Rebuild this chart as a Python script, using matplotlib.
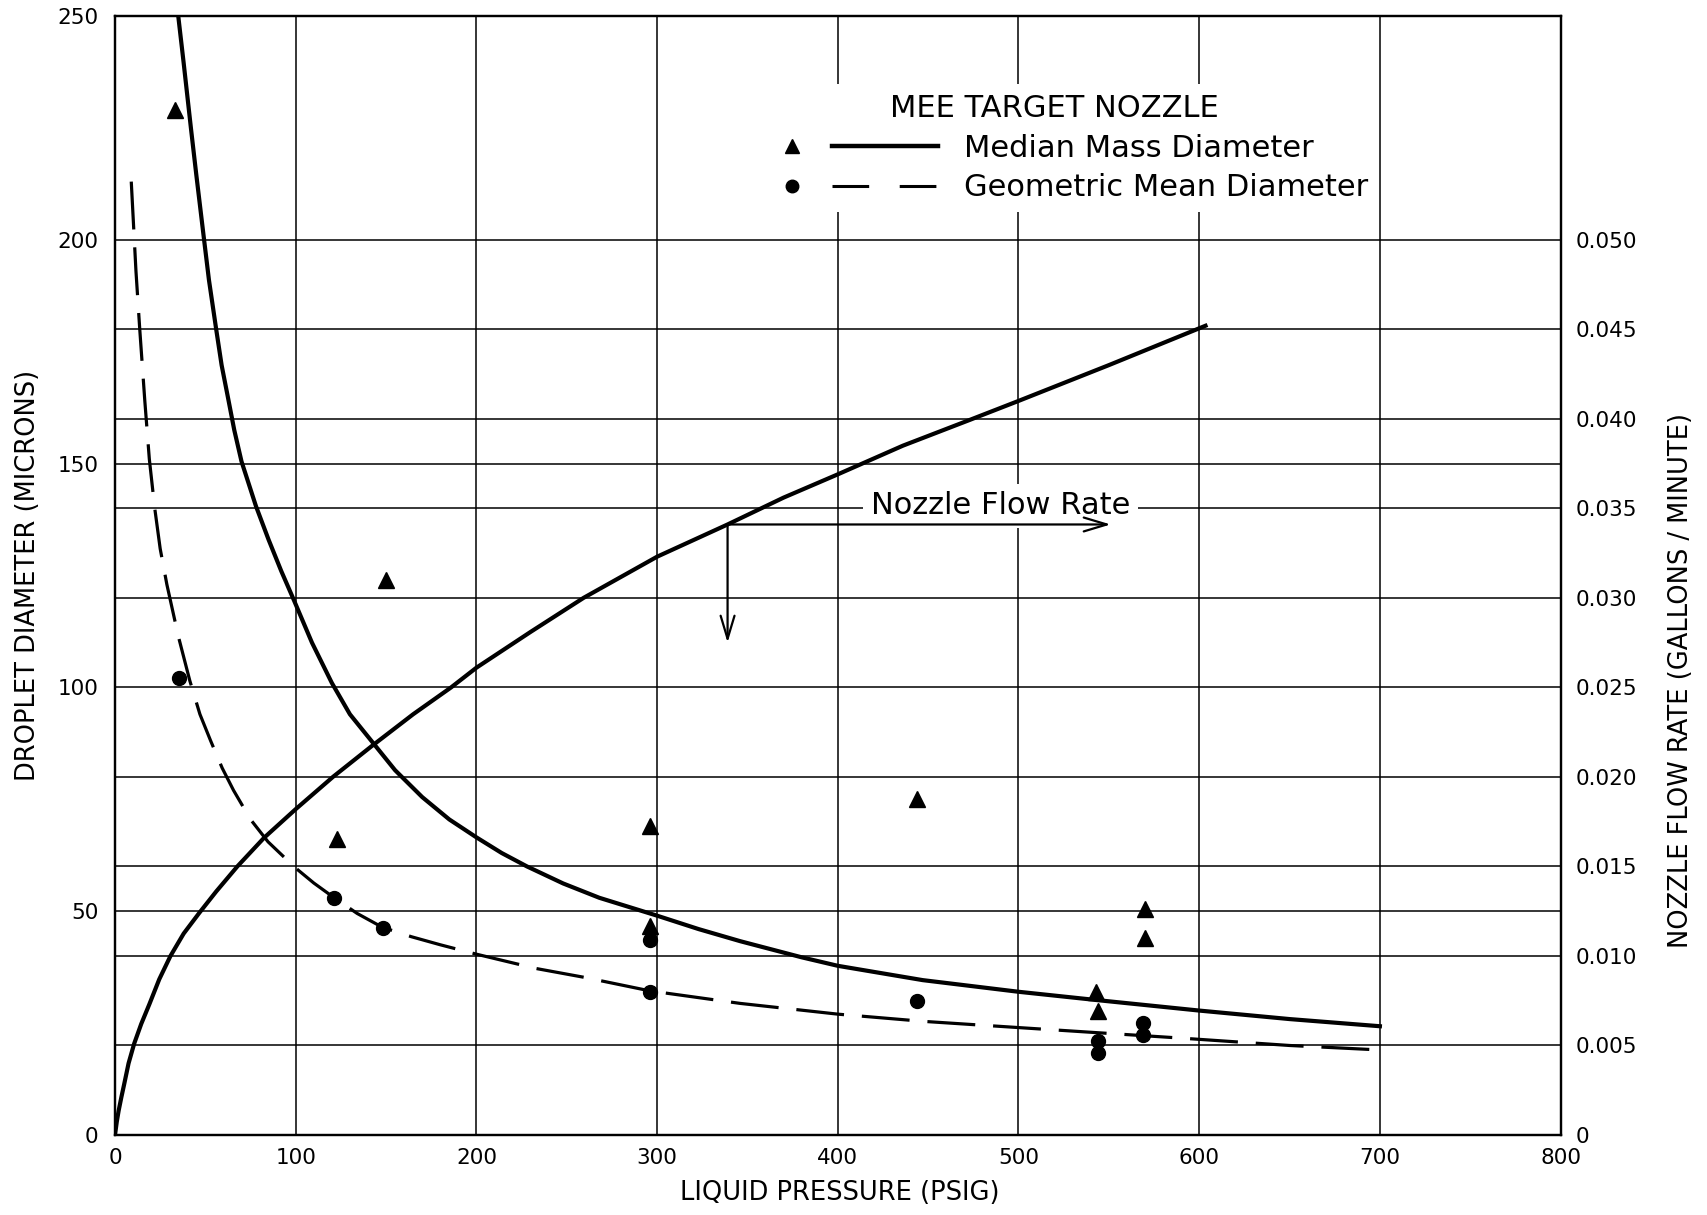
import matplotlib
matplotlib.use('Agg')
import matplotlib.pyplot as plt
import numpy as np
from matplotlib.lines import Line2D
from matplotlib.legend_handler import HandlerTuple

plt.rcParams['font.family'] = ['DejaVu Sans']

# median mass diameter curve (microns vs psig)
mmd_psig = [35, 38, 42, 45, 49, 52, 56, 59, 62.4, 66, 70, 78, 85, 92, 99, 109, 120, 130,
            142, 155, 170, 185, 200, 214, 228, 248, 268, 284, 300, 323, 346, 380, 400,
            447, 500, 542, 600, 650, 700]
mmd_micron = [250, 239.5, 225, 214.5, 201, 191, 180, 172, 165, 157.5, 150.5, 140.5, 133,
              126, 119.5, 110, 101, 94, 88, 81.5, 75.5, 70.5, 66.5, 63, 60, 56.2, 53, 51,
              49, 46, 43.3, 39.7, 37.8, 34.6, 32, 30.2, 27.8, 25.9, 24.3]

# geometric mean diameter curve
gmd_psig = [9, 10.3, 11.6, 13.7, 16.5, 19, 22, 25, 28.7, 35, 41.4, 47, 53, 59.3, 65.6, 75,
            84.7, 99.5, 110, 120.6, 134, 148, 164, 180, 200, 233, 260, 296, 346, 400, 447,
            500, 542, 588, 650, 700]
gmd_micron = [213, 203, 193, 180, 164, 151, 140, 131, 123, 111.5, 101.5, 94, 88, 82, 77,
              70.5, 65.5, 59.8, 56.3, 53.2, 49.5, 46.4, 44.3, 42.5, 40.4, 37.2, 35.2, 32.2,
              29.4, 27, 25.4, 24, 22.9, 21.7, 20, 19]

# measured points
mmd_pts_psig = [33, 123, 150, 296, 296, 444, 543, 544, 570, 570]
mmd_pts_micron = [229, 66.2, 124, 69, 46.6, 75, 32, 27.8, 50.5, 44]
gmd_pts_psig = [35.4, 121, 148.5, 296, 296, 444, 544, 544, 569, 569]
gmd_pts_micron = [102, 53, 46.2, 43.5, 32, 30, 20.9, 18.4, 25, 22.3]

# nozzle flow rate (gallons / minute)
flow_psig = [0, 1, 2, 3.5, 5, 7.5, 10.6, 14.5, 19, 24.5, 30.7, 38, 46.6, 56, 67.7, 82.5,
             100, 120.6, 141.8, 165, 186, 200, 230, 259.3, 300, 339, 370, 400, 436, 472,
             500, 550, 603.5]
flow_gpm = [0, 0.00075, 0.00135, 0.0021, 0.0028, 0.0040, 0.0051, 0.0062, 0.0073, 0.0087,
            0.0100, 0.01125, 0.0124, 0.0136, 0.0150, 0.0166, 0.0182, 0.0200, 0.0217,
            0.0235, 0.0250, 0.0261, 0.0281, 0.0300, 0.0323, 0.0341, 0.0356, 0.0369,
            0.0385, 0.0399, 0.0410, 0.0430, 0.0452]

x_ticks = [0, 100, 200, 300, 400, 500, 600, 700, 800]
y_ticks = [0, 50, 100, 150, 200, 250]
flow_ticks = [0, 0.005, 0.010, 0.015, 0.020, 0.025, 0.030, 0.035, 0.040, 0.045, 0.050]
flow_labels = ['0', '0.005', '0.010', '0.015', '0.020', '0.025', '0.030', '0.035',
               '0.040', '0.045', '0.050']

fig = plt.figure(figsize=(17.08, 12.15), dpi=100)
ax = fig.add_axes([115 / 1708, 1 - 1135 / 1215, 1445.6 / 1708, 1119 / 1215])

ax.plot(mmd_psig, mmd_micron, color='k', lw=3.0, zorder=4)
ax.plot(gmd_psig, gmd_micron, color='k', lw=2.3, dashes=(15, 5.6), zorder=4)
ax.plot(mmd_pts_psig, mmd_pts_micron, '^', color='k', ms=12, zorder=5)
ax.plot(gmd_pts_psig, gmd_pts_micron, 'o', color='k', ms=10, zorder=5)

ax.set_xlim(0, 800)
ax.set_ylim(0, 250)
ax.set_xticks(x_ticks)
ax.set_yticks(y_ticks)
ax.set_yticks([20, 40, 60, 80, 120, 140, 160, 180], minor=True)
ax.set_axisbelow(True)
ax.grid(which='both', axis='y', color='k', lw=1.1)
ax.grid(which='major', axis='x', color='k', lw=1.1)
ax.tick_params(which='both', length=0, labelsize=15.5)
ax.tick_params(axis='y', pad=12)
ax.tick_params(axis='x', pad=9)

ax.set_xlabel('LIQUID PRESSURE (PSIG)', fontsize=18.5)
ax.xaxis.set_label_coords(0.5016, -0.040)
ax.set_ylabel('DROPLET DIAMETER (MICRONS)', fontsize=18.5)
ax.yaxis.set_label_coords(-0.0515, 0.5)

# flow rate on the right axis
ax2 = ax.twinx()
ax2.plot(flow_psig, flow_gpm, color='k', lw=3.0)
ax2.set_ylim(0, 0.0625)
ax2.set_yticks(flow_ticks)
ax2.set_yticklabels(flow_labels)
ax2.tick_params(length=0, labelsize=15.5, pad=11)
ax2.set_ylabel('NOZZLE FLOW RATE (GALLONS / MINUTE)', fontsize=18.5)
ax2.yaxis.set_label_coords(1.0744, 0.406)

for a in (ax, ax2):
    for s in a.spines.values():
        s.set_linewidth(1.6)

# arrows showing how to read the flow curve
arrow_psig = 339
arrow_flow = np.interp(arrow_psig, flow_psig, flow_gpm)
arrow_style = dict(arrowstyle='->,head_length=0.83,head_width=0.25', lw=1.6, color='k',
                   mutation_scale=20, shrinkA=0, shrinkB=0)
ax2.annotate('', xy=(551, arrow_flow), xytext=(arrow_psig, arrow_flow), arrowprops=arrow_style)
ax2.annotate('', xy=(arrow_psig, 0.0275), xytext=(arrow_psig, arrow_flow), arrowprops=arrow_style)

ax.text(490, 140.6, 'Nozzle Flow Rate', ha='center', va='center', fontsize=22, zorder=3,
        bbox=dict(boxstyle='square,pad=0.25', fc='white', ec='none'))

# legend: marker, then line, then label
tri = Line2D([], [], marker='^', ls='none', color='k', ms=10.5)
solid = Line2D([], [], color='k', lw=3.2)
dot = Line2D([], [], marker='o', ls='none', color='k', ms=9)
dashed = Line2D([], [], color='k', lw=2.2, dashes=(12, 10))
leg = ax.legend([(tri, solid), (dot, dashed)],
                ['Median Mass Diameter', 'Geometric Mean Diameter'],
                handler_map={tuple: HandlerTuple(ndivide=None, pad=-0.42)},
                title='MEE TARGET NOZZLE', title_fontsize=22, fontsize=22,
                loc='center left', bbox_to_anchor=(340, 220.5), bbox_transform=ax.transData,
                borderaxespad=0, handlelength=6.5, handletextpad=0.85, borderpad=0.33,
                labelspacing=0.35, frameon=True, fancybox=False, facecolor='white',
                edgecolor='none', framealpha=1)

fig.savefig('out.png', dpi=100)
